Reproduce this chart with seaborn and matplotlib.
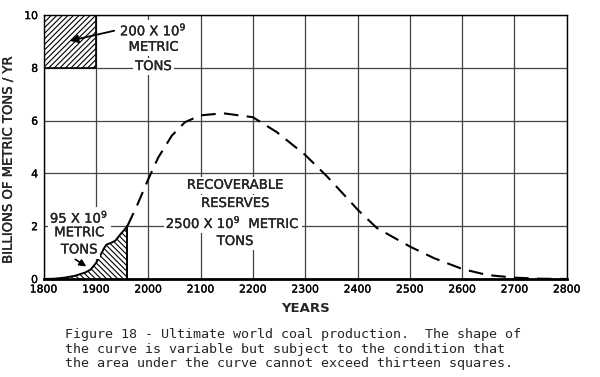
import numpy as np
import pandas as pd
import matplotlib
matplotlib.use("Agg")
import matplotlib.pyplot as plt
import matplotlib.patheffects as pe
import seaborn as sns

# produccion historica (solida, rayada)
anios_hist = [1800, 1820, 1840, 1860, 1880, 1890, 1900, 1910, 1915, 1920, 1930, 1937, 1945, 1960]
prod_hist = [0.0, 0.01, 0.05, 0.12, 0.25, 0.36, 0.6, 0.95, 1.15, 1.3, 1.38, 1.45, 1.65, 2.0]

# proyeccion (discontinua)
anios_proy = [1960, 1978, 2000, 2019, 2045, 2070, 2100, 2143, 2200, 2246, 2300, 2341, 2383,
              2400, 2437, 2500, 2546, 2600, 2648, 2700, 2750, 2800]
prod_proy = [2.0, 2.76, 3.78, 4.6, 5.43, 5.94, 6.2, 6.28, 6.13, 5.56, 4.7, 3.9, 3.0,
             2.63, 1.93, 1.23, 0.79, 0.38, 0.15, 0.05, 0.01, 0.0]

xticks = list(range(1800, 2801, 100))
yticks = [0, 2, 4, 6, 8, 10]

sns.set_style("white")
plt.rcParams["font.family"] = ["DejaVu Sans"]
plt.rcParams["hatch.linewidth"] = 0.8

grueso = [pe.withStroke(linewidth=0.2, foreground="black")]

fig = plt.figure(figsize=(6, 3.77), dpi=100)
ax = fig.add_axes([0.0727, 0.26, 0.872, 0.70])

df_hist = pd.DataFrame({"anio": anios_hist, "prod": prod_hist})
df_proy = pd.DataFrame({"anio": anios_proy, "prod": prod_proy})

ax.set_xlim(1800, 2800)
ax.set_ylim(0, 10)
ax.set_xticks(xticks)
ax.set_yticks(yticks)
ax.grid(True, color="#444444", lw=0.9)
ax.set_axisbelow(True)

# cuadro de escala arriba a la izquierda
ax.fill_between([1800, 1900], 8, 10, facecolor="white", edgecolor="black", hatch="//////", lw=1.2, zorder=2)

ax.fill_between(anios_hist, 0, prod_hist, facecolor="white", edgecolor="black", hatch="\\\\\\\\\\\\", lw=0, zorder=2)
sns.lineplot(data=df_hist, x="anio", y="prod", ax=ax, color="black", lw=1.4, zorder=3)
ax.plot([1960, 1960], [0, 2], color="black", lw=1.4, zorder=3)
ax.plot(df_proy["anio"], df_proy["prod"], color="black", lw=1.5, zorder=3,
        linestyle=(0, (7, 4)))

for s in ax.spines.values():
    s.set_color("black")
    s.set_linewidth(1.0)
ax.spines["bottom"].set_linewidth(2.0)

ax.tick_params(length=0, labelsize=7.8, pad=4, colors="black")
for t in ax.get_xticklabels() + ax.get_yticklabels():
    t.set_path_effects(grueso)
ax.set_xlabel("YEARS", fontsize=9.5, fontweight="bold")
ax.set_ylabel("BILLIONS OF METRIC TONS / YR", fontsize=9.5, path_effects=grueso)
ax.yaxis.set_label_coords(-0.055, 0.45)
ax.xaxis.set_label_coords(0.5, -0.087)

caja = dict(facecolor="white", edgecolor="none", pad=1.5)
tf = dict(fontsize=9.5, ha="center", va="center", zorder=4, bbox=caja, path_effects=grueso)
ax.text(2010, 9.43, "200 X 10$^9$", **tf)
ax.text(2010, 8.78, "METRIC", **tf)
ax.text(2010, 8.05, "TONS", **tf)
ax.annotate("", xy=(1845, 9.0), xytext=(1940, 9.43),
            arrowprops=dict(arrowstyle="-|>", color="black", lw=1.3, mutation_scale=12), zorder=5)

ax.text(1868, 2.33, "95 X 10$^9$", **tf)
ax.text(1868, 1.75, "METRIC", **tf)
ax.text(1868, 1.1, "TONS", **tf)
ax.annotate("", xy=(1886, 0.42), xytext=(1856, 0.8),
            arrowprops=dict(arrowstyle="-|>", color="black", lw=1.2, mutation_scale=10), zorder=5)

ax.text(2166, 3.55, "RECOVERABLE", **tf)
ax.text(2166, 2.86, "RESERVES", **tf)
ax.text(2162, 2.13, "2500 X 10$^9$  METRIC", **tf)
ax.text(2166, 1.42, "TONS", **tf)

cap = ("Figure 18 - Ultimate world coal production.  The shape of\n"
       "the curve is variable but subject to the condition that\n"
       "the area under the curve cannot exceed thirteen squares.")
fig.text(0.108, 0.074, cap, fontsize=9.6, family="DejaVu Sans Mono", va="center",
         ha="left", linespacing=1.17)

fig.savefig("out.png", dpi=100)
